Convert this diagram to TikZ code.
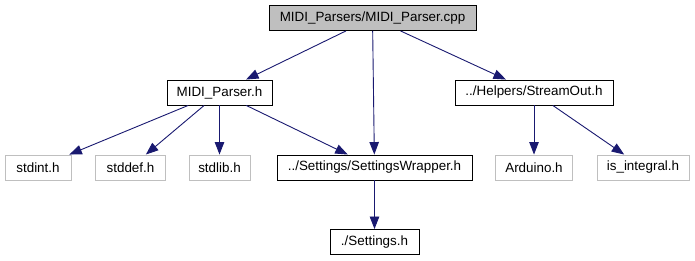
\documentclass[tikz,border=0pt]{standalone}
\usepackage{fontspec}
\setmainfont{Liberation Sans}
\usetikzlibrary{arrows.meta,positioning}

\definecolor{edgeblue}{HTML}{191970}
\definecolor{boxgray}{HTML}{BFBFBF}

\tikzset{
  filebox/.style={draw=black,fill=white,line width=0.9pt,inner sep=0pt,minimum height=25pt,font=\fontsize{13.4}{16}\selectfont},
  missingbox/.style={filebox,draw=boxgray},
  rootbox/.style={filebox,fill=boxgray},
  incl/.style={draw=edgeblue,line width=0.9pt,-{Triangle[length=12.5pt,width=9.5pt]}}
}

\begin{document}
\begin{tikzpicture}[x=1pt,y=1pt]
  \useasboundingbox (0,0) rectangle (695,261);
  % file being documented
  \node[rootbox,minimum width=207pt] (cpp) at (372.5,243) {MIDI\_Parsers/MIDI\_Parser.cpp};
  % direct includes
  \node[filebox,minimum width=105pt] (parser) at (219.5,168.5) {MIDI\_Parser.h};
  \node[filebox,minimum width=158pt] (streamout) at (534,168.5) {../Helpers/StreamOut.h};
  % second level
  \node[missingbox,minimum width=66pt] (stdint) at (38,93.5) {stdint.h};
  \node[missingbox,minimum width=70pt] (stddef) at (130.5,93.5) {stddef.h};
  \node[missingbox,minimum width=61pt] (stdlib) at (219.5,93.5) {stdlib.h};
  \node[filebox,minimum width=195pt] (wrapper) at (374.5,93.5) {../Settings/SettingsWrapper.h};
  \node[missingbox,minimum width=77pt] (arduino) at (534,93.5) {Arduino.h};
  \node[missingbox,minimum width=92pt] (integral) at (643,93.5) {is\_integral.h};
  \node[filebox,minimum width=89pt] (settings) at (374.5,19) {./Settings.h};
  % include edges
  \draw[incl] (cpp) -- (parser);
  \draw[incl] (cpp) -- (wrapper);
  \draw[incl] (cpp) -- (streamout);
  \draw[incl] (parser) -- (stdint);
  \draw[incl] (parser) -- (stddef);
  \draw[incl] (parser) -- (stdlib);
  \draw[incl] (parser) -- (wrapper);
  \draw[incl] (streamout) -- (arduino);
  \draw[incl] (streamout) -- (integral);
  \draw[incl] (wrapper) -- (settings);
\end{tikzpicture}
\end{document}
